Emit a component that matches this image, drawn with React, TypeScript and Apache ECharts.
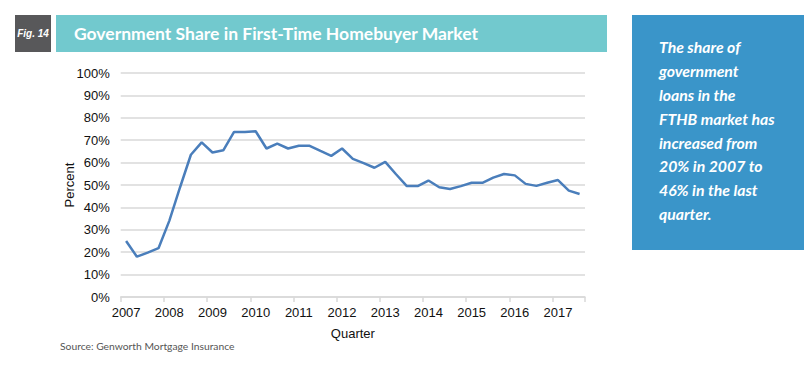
import React, { useEffect, useRef } from "react";
import * as echarts from "echarts";

const years = [2007, 2008, 2009, 2010, 2011, 2012, 2013, 2014, 2015, 2016, 2017];
const quartersPerYear = ["Q1", "Q2", "Q3", "Q4"];
const lastYearQuarters = 3;

const governmentShare = [
  25, 18, 19.8, 21.8,
  34, 49, 63.5, 69,
  64.5, 65.5, 73.7, 73.7,
  74, 66.3, 68.5, 66.3,
  67.5, 67.5, 65.2, 63,
  66.3, 61.7, 59.8, 57.7,
  60.3, 54.8, 49.5, 49.5,
  52, 49, 48.2, 49.5,
  51, 51, 53.3, 54.9,
  54.3, 50.5, 49.6, 51,
  52.2, 47.5, 46,
];

const yTicks = { min: 0, max: 100, interval: 10 };

const titleText = "Government Share in First-Time Homebuyer Market";
const figText = "Fig. 14";
const sideNoteLines = [
  "The share of",
  "government",
  "loans in the",
  "FTHB market has",
  "increased from",
  "20% in 2007 to",
  "46% in the last",
  "quarter.",
];
const sourceText = "Source: Genworth Mortgage Insurance";

const categories: string[] = [];
years.forEach((y, yi) => {
  const n = yi === years.length - 1 ? lastYearQuarters : 4;
  for (let q = 0; q < n; q++) categories.push(`${y} ${quartersPerYear[q]}`);
});

export default function App() {
  const ref = useRef<HTMLDivElement>(null);
  useEffect(() => {
    if (!ref.current) return;
    const chart = echarts.init(ref.current, undefined, { renderer: "svg" });
    const axisFont = "Liberation Sans, Arial, sans-serif";
    chart.setOption({
      animation: false,
      backgroundColor: "#ffffff",
      grid: { left: 120.7, right: 219, top: 73, bottom: 70, containLabel: false },
      xAxis: {
        type: "category",
        data: categories,
        boundaryGap: true,
        name: "Quarter",
        nameLocation: "middle",
        nameGap: 30,
        nameMoveOverlap: false,
        nameTextStyle: { fontFamily: axisFont, fontSize: 13, color: "#111" },
        axisLine: { lineStyle: { color: "#d9d9d9", width: 1.5 } },
        axisTick: { show: true, interval: 3, length: 5, lineStyle: { color: "#d9d9d9", width: 1.5 } },
        axisLabel: {
          interval: 3,
          margin: 9,
          fontFamily: axisFont,
          fontSize: 13,
          color: "#111",
          formatter: (v: string) => v.slice(0, 4),
        },
        splitLine: { show: false },
      },
      yAxis: {
        type: "value",
        min: yTicks.min,
        max: yTicks.max,
        interval: yTicks.interval,
        name: "Percent",
        nameLocation: "middle",
        nameGap: 45,
        nameMoveOverlap: false,
        nameTextStyle: { fontFamily: axisFont, fontSize: 13, color: "#111" },
        axisLine: { show: false },
        axisTick: { show: false },
        axisLabel: { margin: 11, fontFamily: axisFont, fontSize: 13, color: "#111", formatter: "{value}%" },
        splitLine: { lineStyle: { color: "#d9d9d9", width: 1.5 } },
      },
      series: [
        {
          type: "line",
          data: governmentShare,
          symbol: "none",
          lineStyle: { color: "#4a7ebb", width: 2.5 },
          itemStyle: { color: "#4a7ebb" },
        },
      ],
      graphic: [
        { type: "rect", shape: { x: 15, y: 15, width: 36, height: 37 }, style: { fill: "#58585a" } },
        {
          type: "text",
          x: 33,
          y: 33.5,
          style: {
            text: figText,
            fill: "#ffffff",
            font: "italic bold 10px Liberation Sans, Arial, sans-serif",
            align: "center",
            verticalAlign: "middle",
          },
        },
        { type: "rect", shape: { x: 56, y: 15, width: 551, height: 37 }, style: { fill: "#72c9ce" } },
        {
          type: "text",
          x: 74,
          y: 33.5,
          style: {
            text: titleText,
            fill: "#ffffff",
            font: "bold 17.5px Lato, sans-serif",
            align: "left",
            verticalAlign: "middle",
          },
        },
        { type: "rect", shape: { x: 632, y: 15, width: 172, height: 235 }, style: { fill: "#3a95c9" } },
        {
          type: "text",
          x: 659,
          y: 35,
          style: {
            text: sideNoteLines.join("\n"),
            fill: "#ffffff",
            font: "italic bold 15.8px Lato, sans-serif",
            lineHeight: 23.8,
            align: "left",
            verticalAlign: "top",
          },
        },
        {
          type: "text",
          x: 60,
          y: 346,
          style: {
            text: sourceText,
            fill: "#555555",
            font: "10.3px Lato, sans-serif",
            align: "left",
            verticalAlign: "middle",
          },
        },
      ],
    });
    return () => chart.dispose();
  }, []);
  return (
    <div
      ref={ref}
      style={{ position: "fixed", left: 0, top: 0, width: 804, height: 367, background: "#fff" }}
    />
  );
}
